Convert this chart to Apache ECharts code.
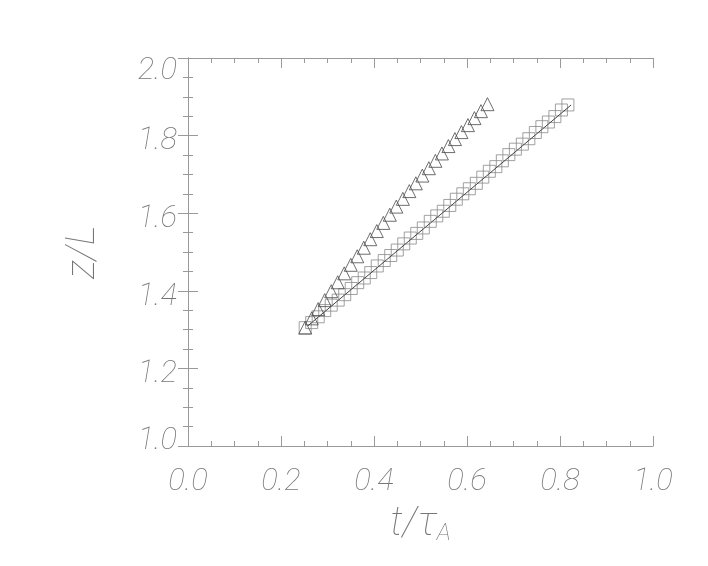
<!DOCTYPE html>
<html>
<head>
<meta charset="utf-8">
<script src="https://cdn.jsdelivr.net/npm/echarts@6/dist/echarts.min.js"></script>
<style>html,body{margin:0;padding:0;background:#fff}#c{width:708px;height:566px}</style>
</head>
<body>
<div id="c"></div>
<script>
// ---- data ----
var triT = [0.252,0.266,0.280,0.294,0.308,0.322,0.336,0.350,0.364,0.378,0.392,0.406,0.420,0.434,0.448,0.462,0.476,0.490,0.504,0.518,0.532,0.546,0.560,0.574,0.588,0.602,0.616,0.630,0.644];
var triZ = [1.305,1.329,1.353,1.376,1.399,1.422,1.445,1.467,1.489,1.511,1.533,1.554,1.575,1.596,1.617,1.637,1.657,1.677,1.697,1.716,1.735,1.754,1.773,1.791,1.809,1.827,1.845,1.863,1.881];
var sqT = [0.252,0.266,0.280,0.294,0.308,0.323,0.337,0.351,0.365,0.379,0.393,0.407,0.422,0.436,0.450,0.464,0.478,0.492,0.506,0.521,0.535,0.549,0.563,0.577,0.591,0.605,0.620,0.634,0.648,0.662,0.676,0.690,0.704,0.719,0.733,0.747,0.761,0.775,0.789,0.803,0.817];
var sqZ = [1.305,1.318,1.333,1.349,1.363,1.376,1.390,1.406,1.421,1.433,1.447,1.464,1.478,1.491,1.505,1.521,1.536,1.548,1.562,1.579,1.593,1.605,1.620,1.636,1.650,1.663,1.677,1.693,1.708,1.720,1.735,1.751,1.765,1.778,1.792,1.808,1.823,1.835,1.849,1.866,1.879];
var fitT = [0.258, 0.824];
var fitZ = [1.310, 1.879];
var xTicks = [0.0, 0.2, 0.4, 0.6, 0.8, 1.0];
var xTickLabels = ['0.0','0.2','0.4','0.6','0.8','1.0'];
var yTicks = [1.0, 1.2, 1.4, 1.6, 1.8, 2.0];
var yTickLabels = ['1.0','1.2','1.4','1.6','1.8','2.0'];

function zip(a, b) { return a.map(function (v, i) { return [v, b[i]]; }); }
function lookup(ticks, labels, v) {
  for (var i = 0; i < ticks.length; i++) if (Math.abs(ticks[i] - v) < 1e-6) return labels[i];
  return '';
}

var AX = '#9a9a9a';
var TXT = '#767676';
var FONT = 'Roboto, "DejaVu Sans", sans-serif';
var lblBase = { fontFamily: FONT, fontStyle: 'italic', fontWeight: 100, fontSize: 31, color: TXT };

function majorAxis(extra) {
  var o = {
    type: 'value',
    axisLine: { show: true, lineStyle: { color: AX, width: 1 } },
    axisTick: { show: true, inside: true, length: 10, lineStyle: { color: AX, width: 1 } },
    splitLine: { show: false }
  };
  for (var k in extra) o[k] = extra[k];
  return o;
}
function minorAxis(extra) {
  var o = {
    type: 'value', gridIndex: 1,
    axisLine: { show: false },
    axisTick: { show: true, inside: true, length: 5, lineStyle: { color: AX, width: 1 } },
    axisLabel: { show: false },
    splitLine: { show: false }
  };
  for (var k in extra) o[k] = extra[k];
  return o;
}

var chart = echarts.init(document.getElementById('c'), null, { renderer: 'canvas' });
chart.setOption({
  animation: false,
  backgroundColor: '#ffffff',
  grid: [
    { left: 188, top: 58, width: 465, height: 388, containLabel: false },
    { left: 188, top: 58, width: 465, height: 388, containLabel: false }
  ],
  xAxis: [
    majorAxis({
      min: 0, max: 1, interval: 0.2, position: 'bottom',
      axisLabel: Object.assign({ margin: 21, formatter: function (v) { return lookup(xTicks, xTickLabels, v); } }, lblBase),
      name: '{m|t/τ}{s|A}',
      nameLocation: 'middle', nameGap: 58,
      nameTextStyle: {
        rich: {
          m: { fontFamily: FONT, fontStyle: 'italic', fontWeight: 100, fontSize: 40, color: TXT },
          s: { fontFamily: FONT, fontStyle: 'italic', fontWeight: 100, fontSize: 24, color: TXT, padding: [18, 0, 0, 0] }
        }
      }
    }),
    majorAxis({ min: 0, max: 1, interval: 0.2, position: 'top', axisLabel: { show: false } }),
    minorAxis({ min: 0, max: 1, interval: 0.05, position: 'bottom' }),
    minorAxis({ min: 0, max: 1, interval: 0.05, position: 'top' })
  ],
  yAxis: [
    majorAxis({
      min: 1, max: 2, interval: 0.2, position: 'left',
      axisLabel: {
        margin: 11,
        formatter: function (v) {
          var s = lookup(yTicks, yTickLabels, v);
          if (Math.abs(v - 2) < 1e-6) return '{t|' + s + '}';
          if (Math.abs(v - 1) < 1e-6) return '{b|' + s + '}';
          return '{m|' + s + '}';
        },
        rich: {
          t: Object.assign({ padding: [26, 0, 0, 0] }, lblBase),
          b: Object.assign({ padding: [0, 0, 10, 0] }, lblBase),
          m: Object.assign({ padding: [12, 0, 0, 0] }, lblBase)
        }
      },
      name: 'z/L',
      nameLocation: 'middle', nameGap: 84, nameRotate: 90,
      nameTextStyle: { fontFamily: FONT, fontStyle: 'italic', fontWeight: 100, fontSize: 40, color: TXT }
    }),
    majorAxis({ min: 1, max: 2, interval: 0.2, position: 'right', axisLabel: { show: false } }),
    minorAxis({ min: 1, max: 2, interval: 0.05, position: 'left' }),
    minorAxis({ min: 1, max: 2, interval: 0.05, position: 'right' })
  ],
  series: [
    {
      type: 'line', data: zip(fitT, fitZ), symbol: 'none',
      lineStyle: { color: '#444444', width: 1 }, z: 3
    },
    {
      type: 'scatter', data: zip(sqT, sqZ), symbol: 'rect', symbolSize: 12,
      itemStyle: { color: 'rgba(0,0,0,0)', borderColor: '#8a8a8a', borderWidth: 1 }, z: 2
    },
    {
      type: 'scatter', data: zip(triT, triZ), symbol: 'triangle', symbolSize: 13,
      itemStyle: { color: 'rgba(0,0,0,0)', borderColor: '#4a4a4a', borderWidth: 1 }, z: 4
    }
  ]
});
</script>
</body>
</html>
